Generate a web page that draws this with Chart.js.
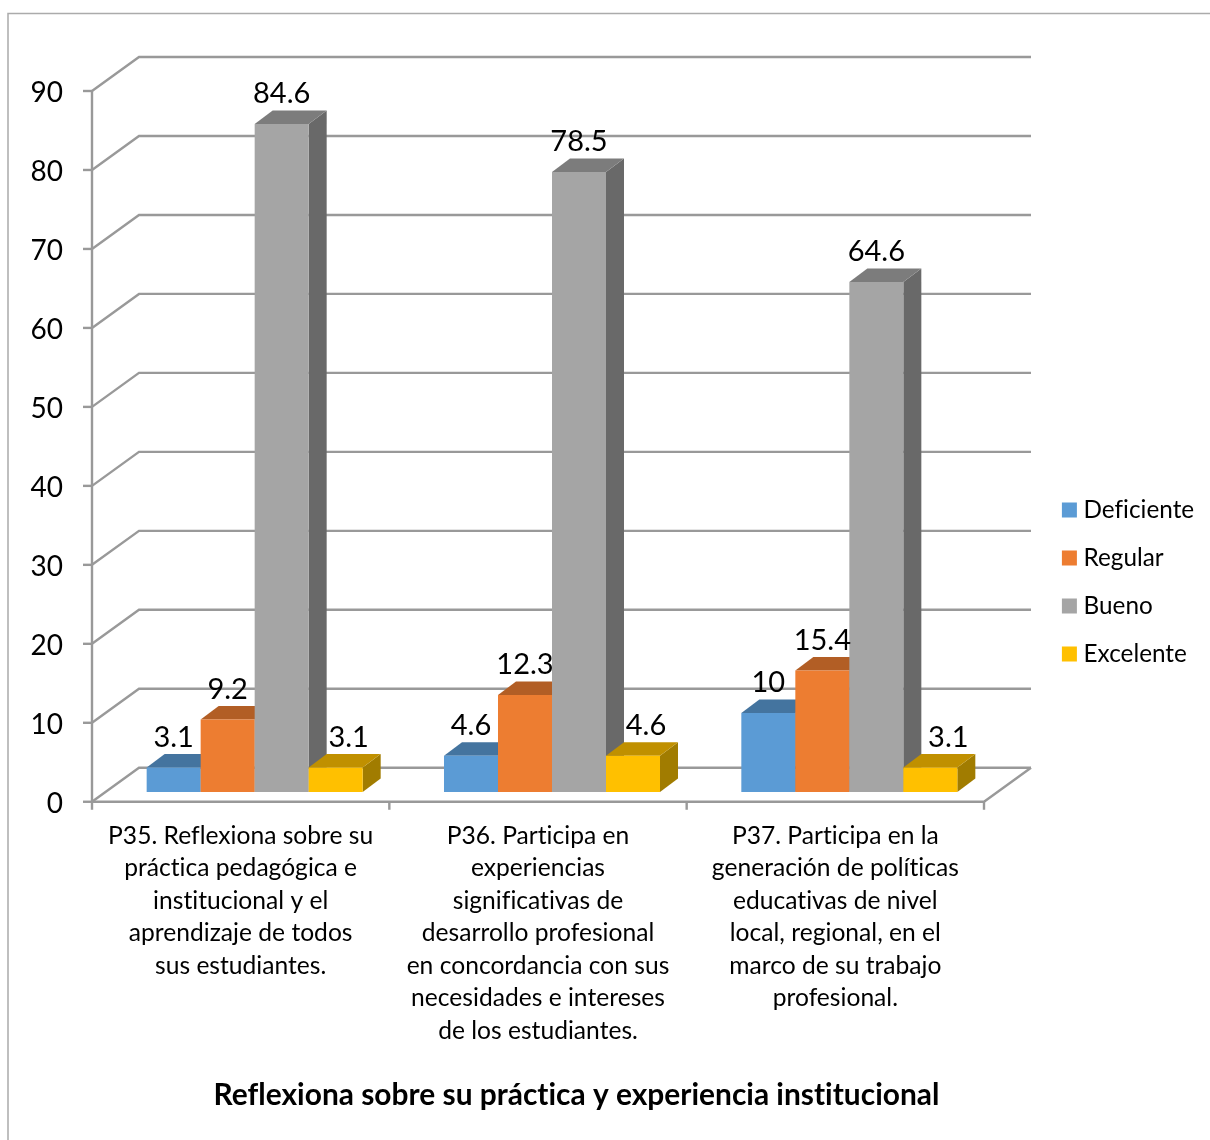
<!DOCTYPE html>
<html lang="es">
<head>
<meta charset="utf-8">
<title>Reflexiona sobre su práctica y experiencia institucional</title>
<style>
  html, body { margin: 0; padding: 0; background: #fff; }
  #box { width: 1210px; height: 1140px; }
  canvas { display: block; }
</style>
<script src="https://cdn.jsdelivr.net/npm/chart.js@4/dist/chart.umd.min.js"></script>
</head>
<body>
<div id="box"><canvas id="chart" width="1210" height="1140"></canvas></div>
<script>
// Categories, wrapped by line as they appear under the axis
const categories = [
  ["P35. Reflexiona sobre su", "práctica pedagógica e", "institucional y el", "aprendizaje de todos", "sus estudiantes."],
  ["P36. Participa en", "experiencias", "significativas de", "desarrollo profesional", "en concordancia con sus", "necesidades e intereses", "de los estudiantes."],
  ["P37. Participa en la", "generación de políticas", "educativas de nivel", "local, regional, en el", "marco de su trabajo", "profesional."]
];
const deficiente = [3.1, 4.6, 10];
const regular = [9.2, 12.3, 15.4];
const bueno = [84.6, 78.5, 64.6];
const excelente = [3.1, 4.6, 3.1];
const chartTitle = "Reflexiona sobre su práctica y experiencia institucional";

const FONT = "Lato, Carlito, Calibri, sans-serif";
const GRID = "#999999";
// Oblique offset of the back wall, and of each bar's depth
const WALL = { dx: 47, dy: -34 };
const BAR_SHIFT = { x: 14, y: -9.7 };
const DEPTH = { dx: 18, dy: -13.5 };
// The last series' labels sit over the bar's side face, clear of the tall bar beside it
const LAST_SERIES_LABEL_DX = [13, 13, 18];

const faces = [
  { front: "#5B9BD5", top: "#44749F", side: "#3A6287" },
  { front: "#ED7D31", top: "#B25E25", side: "#974F1F" },
  { front: "#A5A5A5", top: "#7C7C7C", side: "#696969" },
  { front: "#FFC000", top: "#C09000", side: "#A17C00" }
];

function line(ctx, pts) {
  ctx.beginPath();
  pts.forEach((p, i) => i ? ctx.lineTo(p[0], p[1]) : ctx.moveTo(p[0], p[1]));
  ctx.stroke();
}
function poly(ctx, pts, fill) {
  ctx.fillStyle = fill;
  ctx.beginPath();
  pts.forEach((p, i) => i ? ctx.lineTo(p[0], p[1]) : ctx.moveTo(p[0], p[1]));
  ctx.closePath();
  ctx.fill();
}

const frame3d = {
  id: "frame3d",
  beforeLayout(chart) {
    // Reserve a fixed column for the legend
    const legend = chart.legend;
    if (legend && !legend._fixedFit) {
      const fit = legend.fit;
      legend.fit = function () { fit.call(this); this.width = 226; };
      legend._fixedFit = true;
    }
  },
  afterLayout(chart) {
    const legend = chart.legend;
    legend.left = 1043.7; legend.right = 1210;
    legend.top = 474.1; legend.bottom = 800;
    chart.titleBlock.left = 8; chart.titleBlock.right = 1145;
  },
  beforeDraw(chart) {
    // A hair of tracking keeps "fi" and "ti" as separate letters
    chart.ctx.letterSpacing = "0.01px";
  },
  beforeDatasetsDraw(chart) {
    const { ctx, scales: { y }, chartArea: a } = chart;
    ctx.save();
    // Chart outline, running off the right and bottom edges
    ctx.strokeStyle = "#ABABAB";
    ctx.lineWidth = 1.5;
    line(ctx, [[8, 1140], [8, 13.5], [1210, 13.5]]);

    ctx.strokeStyle = GRID;
    ctx.lineWidth = 2.4;
    const bx = a.left + WALL.dx, rx = a.right + WALL.dx;
    y.ticks.forEach(t => {
      const py = y.getPixelForValue(t.value);
      line(ctx, [[a.left, py], [bx, py + WALL.dy], [rx, py + WALL.dy]]);
      line(ctx, [[a.left - 9, py], [a.left, py]]);
    });
    // Floor edge and vertical axis
    line(ctx, [[a.left, a.top], [a.left, a.bottom], [a.right, a.bottom], [rx, a.bottom + WALL.dy]]);
    // Category tick marks
    for (let i = 0; i <= categories.length; i++) {
      const px = a.left + (a.right - a.left) * i / categories.length;
      line(ctx, [[px, a.bottom], [px, a.bottom + 8]]);
    }
    ctx.restore();
  },
  beforeDatasetDraw() {
    // Bars are painted left to right in afterDatasetsDraw so nearer faces overlap correctly
    return false;
  },
  afterDatasetsDraw(chart) {
    const { ctx } = chart;
    ctx.save();
    ctx.translate(BAR_SHIFT.x, BAR_SHIFT.y);
    chart.data.datasets.forEach((ds, d) => {
      const meta = chart.getDatasetMeta(d);
      meta.data.forEach(bar => {
        const l = bar.x - bar.width / 2, r = bar.x + bar.width / 2;
        const t = bar.y, b = bar.base;
        poly(ctx, [[r, t], [r + DEPTH.dx, t + DEPTH.dy], [r + DEPTH.dx, b + DEPTH.dy], [r, b]], faces[d].side);
        poly(ctx, [[l, t], [l + DEPTH.dx, t + DEPTH.dy], [r + DEPTH.dx, t + DEPTH.dy], [r, t]], faces[d].top);
        bar.draw(ctx);
      });
    });
    // Value labels sit above each bar
    ctx.fillStyle = "#000";
    ctx.font = "29px " + FONT;
    ctx.textAlign = "center";
    ctx.textBaseline = "middle";
    const last = chart.data.datasets.length - 1;
    chart.data.datasets.forEach((ds, d) => {
      chart.getDatasetMeta(d).data.forEach((bar, i) => {
        const dx = d === last ? LAST_SERIES_LABEL_DX[i] : 0;
        ctx.fillText(String(ds.data[i]), bar.x + dx, bar.y - 30);
      });
    });
    ctx.restore();
  }
};

const series = [
  ["Deficiente", deficiente],
  ["Regular", regular],
  ["Bueno", bueno],
  ["Excelente", excelente]
];

new Chart(document.getElementById("chart"), {
  type: "bar",
  data: {
    labels: categories,
    datasets: series.map((s, i) => ({
      label: s[0],
      data: s[1],
      backgroundColor: faces[i].front,
      borderWidth: 0,
      barPercentage: 1,
      categoryPercentage: 0.7265
    }))
  },
  plugins: [frame3d],
  options: {
    responsive: false,
    animation: false,
    layout: { padding: { top: 91, left: 0, right: 0, bottom: 0 } },
    scales: {
      x: {
        grid: { display: false },
        border: { display: false },
        afterFit(scale) { scale.height = 275.76; },
        ticks: {
          autoSkip: false,
          maxRotation: 0,
          padding: 10,
          color: "#000",
          font: { family: FONT, size: 24.6, lineHeight: "32.5px" }
        }
      },
      y: {
        min: 0,
        max: 90,
        grid: { display: false },
        border: { display: false },
        afterFit(scale) { scale.width = 92; },
        ticks: {
          stepSize: 10,
          padding: 21,
          labelOffset: 2,
          color: "#000",
          font: { family: FONT, size: 28 }
        }
      }
    },
    plugins: {
      tooltip: { enabled: false },
      title: {
        display: true,
        text: chartTitle,
        position: "bottom",
        color: "#000",
        padding: { top: 0, bottom: 26.6 },
        font: { family: FONT, size: 29.9, weight: "bold", lineHeight: 1.2 }
      },
      legend: {
        position: "right",
        align: "start",
        labels: {
          boxWidth: 4,
          boxHeight: 4,
          padding: 23.7,
          color: "#000",
          font: { family: FONT, size: 24.3, lineHeight: 1.2 },
          // A thick stroke squares the swatch up while keeping the text close to it
          generateLabels(chart) {
            return Chart.defaults.plugins.legend.labels.generateLabels(chart).map(item => ({
              ...item,
              strokeStyle: item.fillStyle,
              lineWidth: 11
            }));
          }
        }
      }
    }
  }
});
</script>
</body>
</html>
